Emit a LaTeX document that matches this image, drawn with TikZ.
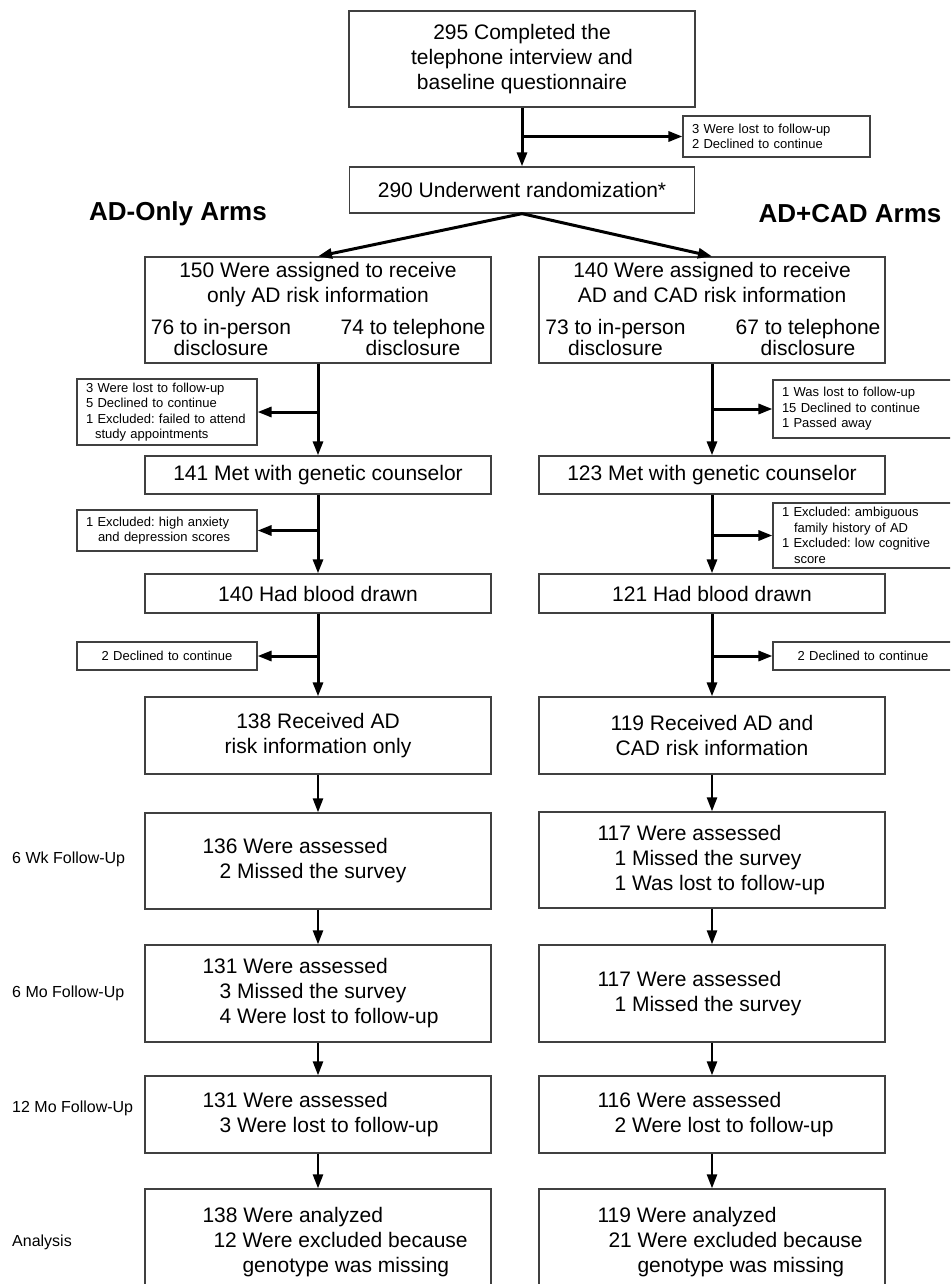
\documentclass[tikz,border=0pt]{standalone}
\usepackage{fontspec}
\setmainfont{Liberation Sans}
\usetikzlibrary{positioning,arrows.meta,calc}
\frenchspacing
\hyphenpenalty=10000

\begin{document}
\begin{tikzpicture}[x=1pt,y=-1pt,
	box/.style={draw=black!75,line width=1.3pt,minimum width=346pt,inner sep=0pt,align=center,font=\fontsize{21}{25}\selectfont},
	sidebox/.style={draw=black!75,line width=1.1pt,inner xsep=9pt,inner ysep=0pt,text width=162pt,align=left,font=\fontsize{13}{15.5}\selectfont},
	txt/.style={inner sep=0pt,align=left,font=\fontsize{21}{25}\selectfont},
	coltxt/.style={inner sep=0pt,align=center,font=\fontsize{21}{21}\selectfont},
	armlabel/.style={inner sep=0pt,font=\bfseries\fontsize{26}{30}\selectfont},
	phase/.style={anchor=west,inner sep=0pt,font=\fontsize{16}{19}\selectfont},
	flow/.style={-{Triangle[length=14pt,width=10pt]},line width=3pt},
	thinflow/.style={-{Triangle[length=14pt,width=10pt]},line width=2.5pt}]
	\useasboundingbox (0,0) rectangle (950,1284);
	\clip (0,0) rectangle (950,1284);
	% enrolment
	\node[box,minimum height=96pt] (start) at (522,59) {295 Completed the\\telephone interview and\\baseline questionnaire};
	\node[box,minimum width=345pt,minimum height=46pt] (rand) at (522,190) {290 Underwent randomization*};
	\node[sidebox,text width=169pt,minimum height=41pt] (lost0) at (776.5,136.5) {3 Were lost to follow-up\\2 Declined to continue};
	\node[armlabel] (armL) at (178,214) {AD-Only Arms};
	\node[armlabel] (armR) at (850,214) {AD+CAD Arms};
	% allocation
	\node[box,minimum height=106pt] (assignL) at (318,310) {};
	\node[coltxt,font=\fontsize{21}{25}\selectfont,anchor=north] (assignLt) at (318,262) {150 Were assigned to receive\\only AD risk information};
	\node[coltxt,anchor=north] (inpersonL) at (221,319) {76 to in-person\\disclosure};
	\node[coltxt,anchor=north] (phoneL) at (413,319) {74 to telephone\\disclosure};
	\node[box,minimum height=106pt] (assignR) at (712,310) {};
	\node[coltxt,font=\fontsize{21}{25}\selectfont,anchor=north] (assignRt) at (712,262) {140 Were assigned to receive\\AD and CAD risk information};
	\node[coltxt,anchor=north] (inpersonR) at (615.5,319) {73 to in-person\\disclosure};
	\node[coltxt,anchor=north] (phoneR) at (808,319) {67 to telephone\\disclosure};
	\node[sidebox,minimum height=66pt] (drop1L) at (167,412) {3 Were lost to follow-up\\5 Declined to continue\\1 Excluded: failed to attend\\\hspace*{9pt}study appointments};
	\node[sidebox,minimum height=58pt] (drop1R) at (863,409) {1 Was lost to follow-up\\15 Declined to continue\\1 Passed away};
	% counselling and blood draw
	\node[box,minimum height=38pt] (counselL) at (318,475) {141 Met with genetic counselor};
	\node[box,minimum height=38pt] (counselR) at (712,475) {123 Met with genetic counselor};
	\node[sidebox,minimum height=41pt] (drop2L) at (167,530.5) {1 Excluded: high anxiety\\\hspace*{12pt}and depression scores};
	\node[sidebox,minimum height=65pt] (drop2R) at (863,535.5) {1 Excluded: ambiguous\\\hspace*{12pt}family history of AD\\1 Excluded: low cognitive\\\hspace*{12pt}score};
	\node[box,minimum height=39pt] (bloodL) at (318,593.5) {140 Had blood drawn};
	\node[box,minimum height=39pt] (bloodR) at (712,593.5) {121 Had blood drawn};
	\node[sidebox,align=center,minimum height=28pt] (drop3L) at (167,656) {2 Declined to continue};
	\node[sidebox,align=center,minimum height=28pt] (drop3R) at (863,656) {2 Declined to continue};
	\node[box,minimum height=77pt] (recvL) at (318,735.5) {138 Received AD\\risk information only};
	\node[box,minimum height=77pt] (recvR) at (712,735.5) {119 Received AD and\\CAD risk information};
	% follow-up
	\node[box,minimum height=96pt] (wk6L) at (318,861) {};
	\node[box,minimum height=96pt] (wk6R) at (712,860) {};
	\node[box,minimum height=97pt] (mo6L) at (318,993.5) {};
	\node[box,minimum height=97pt] (mo6R) at (712,993.5) {};
	\node[box,minimum height=77pt] (mo12L) at (318,1114.5) {};
	\node[box,minimum height=77pt] (mo12R) at (712,1114.5) {};
	\node[box,minimum height=106pt] (analL) at (318,1242) {};
	\node[box,minimum height=106pt] (analR) at (712,1242) {};
	\node[txt,anchor=west] (wk6Lt) at ([xshift=58pt]wk6L.west) {136 Were assessed\\\hspace*{17pt}2 Missed the survey};
	\node[txt,anchor=west] (wk6Rt) at ([xshift=59pt]wk6R.west) {117 Were assessed\\\hspace*{17pt}1 Missed the survey\\\hspace*{17pt}1 Was lost to follow-up};
	\node[txt,anchor=west] (mo6Lt) at ([xshift=58pt]mo6L.west) {131 Were assessed\\\hspace*{17pt}3 Missed the survey\\\hspace*{17pt}4 Were lost to follow-up};
	\node[txt,anchor=west] (mo6Rt) at ([xshift=59pt]mo6R.west) {117 Were assessed\\\hspace*{17pt}1 Missed the survey};
	\node[txt,anchor=west] (mo12Lt) at ([xshift=58pt]mo12L.west) {131 Were assessed\\\hspace*{17pt}3 Were lost to follow-up};
	\node[txt,anchor=west] (mo12Rt) at ([xshift=59pt]mo12R.west) {116 Were assessed\\\hspace*{17pt}2 Were lost to follow-up};
	\node[txt,anchor=west] (analLt) at ([xshift=58pt]analL.west) {138 Were analyzed\\\hspace*{11pt}12 Were excluded because\\\hspace*{40pt}genotype was missing};
	\node[txt,anchor=west] (analRt) at ([xshift=59pt]analR.west) {119 Were analyzed\\\hspace*{11pt}21 Were excluded because\\\hspace*{40pt}genotype was missing};
	\node[phase] (lblWk) at (12,859) {6 Wk Follow-Up};
	\node[phase] (lblMo) at (12,993) {6 Mo Follow-Up};
	\node[phase] (lblYr) at (12,1108) {12 Mo Follow-Up};
	\node[phase] (lblAn) at (12,1242) {Analysis};
	% connectors
	\draw[flow] (start.south) -- (rand.north);
	\draw[flow] (start.south |- lost0.west) -- (lost0.west);
	\draw[flow] (rand.south) -- (assignL.north);
	\draw[flow] (rand.south) -- (assignR.north);
	\foreach \a/\b in {assignL/counselL,counselL/bloodL,bloodL/recvL,assignR/counselR,counselR/bloodR,bloodR/recvR}{
			\draw[flow] (\a.south) -- (\b.north);
		}
	\foreach \a/\b in {recvL/wk6L,wk6L/mo6L,mo6L/mo12L,mo12L/analL,recvR/wk6R,wk6R/mo6R,mo6R/mo12R,mo12R/analR}{
			\draw[thinflow] (\a.south) -- (\b.north);
		}
	\foreach \i in {1,2,3}{
			\draw[flow] (assignL.south |- drop\i L.east) -- (drop\i L.east);
			\draw[flow] (assignR.south |- drop\i R.west) -- (drop\i R.west);
		}
\end{tikzpicture}
\end{document}
